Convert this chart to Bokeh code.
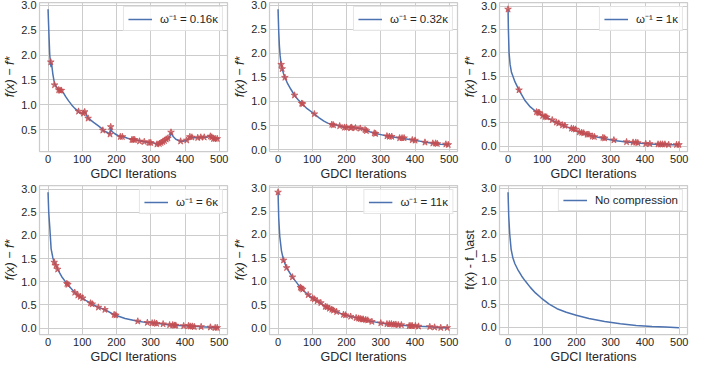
from bokeh.plotting import figure
from bokeh.layouts import gridplot
from bokeh.models import Range1d, FixedTicker, PrintfTickFormatter
from bokeh.embed import file_html
from bokeh.resources import INLINE

# ---------------- data ----------------
labels = ["ω⁻¹ = 0.16κ", "ω⁻¹ = 0.32κ", "ω⁻¹ = 1κ", "ω⁻¹ = 6κ", "ω⁻¹ = 11κ", "No compression"]
ylabels = ["f(x) − f*"] * 5 + ["f(x) - f_\\ast"]
x_ticks = [0, 100, 200, 300, 400, 500]
y_ticks = [0.0, 0.5, 1.0, 1.5, 2.0, 2.5, 3.0]

# panel 1: omega^-1 = 0.16 kappa
x1 = [0, 3, 5, 7, 8, 9, 10, 14, 19, 23, 27, 31, 34, 36, 40, 45, 51, 60, 69, 78, 87, 90, 95,
      100, 104, 108, 112, 116, 120, 133, 147, 158, 160, 165, 175, 181, 183, 186, 195, 205,
      212, 221, 232, 244, 253, 262, 272, 283, 295, 305, 312, 318, 325, 332, 340, 347, 352,
      356, 359, 362, 366, 373, 380, 387, 395, 400, 405, 410, 414, 420, 428, 437, 446, 456,
      465, 470, 474, 478, 483, 490, 499]
y1 = [2.92, 2.35, 2.0, 1.86, 1.80, 1.76, 1.85, 1.62, 1.42, 1.38, 1.34, 1.30, 1.27, 1.31,
      1.28, 1.24, 1.17, 1.08, 1.00, 0.93, 0.88, 0.85, 0.84, 0.82, 0.85, 0.86, 0.80, 0.74,
      0.72, 0.65, 0.58, 0.52, 0.49, 0.47, 0.44, 0.41, 0.56, 0.47, 0.42, 0.38, 0.36, 0.36,
      0.33, 0.31, 0.30, 0.29, 0.27, 0.26, 0.24, 0.24, 0.23, 0.20, 0.22, 0.24, 0.27, 0.31,
      0.34, 0.37, 0.45, 0.40, 0.36, 0.31, 0.29, 0.27, 0.27, 0.28, 0.29, 0.32, 0.36, 0.35,
      0.34, 0.34, 0.34, 0.35, 0.35, 0.38, 0.37, 0.33, 0.31, 0.32, 0.32]
sx1 = [8, 19, 31, 35, 39, 89, 103, 107, 117, 160, 181, 183, 211, 217, 245, 249, 253, 267,
       281, 295, 300, 318, 325, 330, 335, 340, 345, 350, 359, 387, 405, 414, 420, 437, 446,
       456, 474, 478, 483, 488, 494]
sy1 = [1.86, 1.40, 1.30, 1.29, 1.29, 0.87, 0.83, 0.86, 0.73, 0.49, 0.41, 0.56, 0.36, 0.36,
       0.30, 0.30, 0.30, 0.27, 0.26, 0.24, 0.24, 0.21, 0.22, 0.24, 0.26, 0.28, 0.31, 0.33,
       0.45, 0.27, 0.29, 0.36, 0.35, 0.34, 0.35, 0.35, 0.37, 0.35, 0.32, 0.32, 0.32]

# panel 2: omega^-1 = 0.32 kappa
x2 = [0, 2, 4, 6, 9, 12, 16, 20, 28, 37, 48, 58, 69, 85, 106, 120, 134, 145, 157, 170, 180,
      194, 212, 226, 240, 254, 268, 281, 300, 318, 337, 355, 375, 392, 410, 429, 452, 475, 499]
y2 = [2.92, 2.45, 2.15, 1.96, 1.77, 1.68, 1.58, 1.50, 1.37, 1.26, 1.13, 1.04, 0.96, 0.85,
      0.74, 0.66, 0.59, 0.55, 0.52, 0.51, 0.49, 0.46, 0.46, 0.45, 0.44, 0.41, 0.37, 0.34,
      0.31, 0.28, 0.26, 0.24, 0.22, 0.20, 0.18, 0.15, 0.13, 0.11, 0.10]
sx2 = [9, 12, 20, 48, 69, 72, 106, 157, 162, 180, 194, 200, 212, 215, 226, 240, 254, 258,
       281, 285, 318, 325, 332, 355, 362, 368, 392, 400, 429, 452, 460, 465, 490, 497]
sy2 = [1.77, 1.68, 1.50, 1.13, 0.96, 0.95, 0.74, 0.52, 0.51, 0.49, 0.46, 0.46, 0.45, 0.46,
       0.45, 0.44, 0.41, 0.39, 0.34, 0.33, 0.28, 0.27, 0.27, 0.24, 0.24, 0.24, 0.20, 0.19,
       0.15, 0.13, 0.13, 0.12, 0.11, 0.10]

# panel 3: omega^-1 = 1 kappa
x3 = [0, 1, 3, 6, 10, 14, 20, 32, 50, 65, 83, 106, 129, 143, 161, 185, 208, 231, 249, 277,
      309, 346, 369, 406, 438, 475, 499]
y3 = [2.93, 2.5, 2.0, 1.75, 1.58, 1.50, 1.38, 1.20, 0.97, 0.84, 0.73, 0.64, 0.55, 0.50,
      0.45, 0.37, 0.30, 0.25, 0.21, 0.17, 0.12, 0.09, 0.07, 0.05, 0.035, 0.03, 0.03]
sx3 = [0, 32, 83, 88, 92, 101, 108, 113, 129, 141, 148, 159, 166, 185, 191, 197, 208, 215,
       221, 231, 236, 246, 252, 277, 282, 309, 346, 365, 373, 379, 402, 414, 438, 445, 451,
       458, 469, 492, 499]
sy3 = [2.93, 1.20, 0.73, 0.72, 0.71, 0.65, 0.63, 0.62, 0.56, 0.51, 0.49, 0.45, 0.44, 0.38,
       0.37, 0.36, 0.30, 0.29, 0.28, 0.25, 0.25, 0.21, 0.20, 0.18, 0.17, 0.13, 0.09, 0.08,
       0.08, 0.07, 0.05, 0.05, 0.04, 0.04, 0.04, 0.04, 0.03, 0.03, 0.03]

# panel 4: omega^-1 = 6 kappa
x4 = [0, 2, 5, 9, 14, 18, 23, 28, 40, 55, 78, 92, 110, 124, 147, 166, 193, 225, 262, 290,
      304, 336, 355, 396, 410, 447, 474, 488, 499]
y4 = [2.93, 2.5, 2.18, 1.71, 1.52, 1.42, 1.35, 1.27, 1.11, 0.96, 0.77, 0.69, 0.60, 0.54,
      0.45, 0.40, 0.29, 0.21, 0.15, 0.12, 0.11, 0.09, 0.07, 0.05, 0.05, 0.03, 0.02, 0.01, 0.01]
sx4 = [18, 23, 28, 55, 58, 78, 87, 94, 101, 124, 129, 147, 166, 193, 198, 262, 290, 304, 311,
       317, 336, 355, 364, 369, 373, 396, 410, 415, 421, 427, 447, 474, 488, 494]
sy4 = [1.42, 1.35, 1.27, 0.96, 0.94, 0.77, 0.71, 0.68, 0.65, 0.54, 0.52, 0.45, 0.40, 0.29,
       0.28, 0.15, 0.12, 0.11, 0.11, 0.10, 0.09, 0.07, 0.07, 0.06, 0.06, 0.05, 0.05, 0.04,
       0.04, 0.03, 0.03, 0.02, 0.01, 0.01]

# panel 5: omega^-1 = 11 kappa
x5 = [0, 2, 5, 10, 16, 25, 42, 65, 88, 101, 120, 138, 152, 171, 194, 212, 231, 254, 277,
      300, 318, 350, 383, 410, 443, 475, 499]
y5 = [2.90, 2.35, 1.96, 1.65, 1.45, 1.29, 1.09, 0.87, 0.71, 0.64, 0.56, 0.46, 0.41, 0.35,
      0.28, 0.25, 0.22, 0.17, 0.14, 0.11, 0.09, 0.07, 0.05, 0.04, 0.03, 0.01, 0.01]
sx5 = [0, 16, 25, 42, 65, 68, 72, 88, 101, 106, 114, 125, 138, 143, 150, 157, 162, 171, 191,
       197, 212, 228, 235, 240, 245, 249, 256, 262, 274, 300, 318, 325, 331, 338, 344, 351,
       360, 383, 388, 392, 401, 410, 443, 457, 475, 494]
sy5 = [2.90, 1.45, 1.29, 1.09, 0.87, 0.85, 0.83, 0.71, 0.64, 0.62, 0.58, 0.54, 0.46, 0.45,
       0.42, 0.40, 0.38, 0.35, 0.29, 0.28, 0.25, 0.22, 0.21, 0.20, 0.19, 0.19, 0.18, 0.17,
       0.14, 0.11, 0.09, 0.09, 0.09, 0.08, 0.08, 0.07, 0.07, 0.05, 0.05, 0.05, 0.05, 0.04,
       0.03, 0.02, 0.01, 0.01]

# panel 6: no compression
x6 = [0, 2, 5, 9, 14, 20, 28, 40, 51, 65, 80, 97, 120, 143, 170, 199, 236, 282, 328, 374,
      420, 460, 499]
y6 = [2.91, 2.4, 2.0, 1.68, 1.50, 1.37, 1.25, 1.10, 0.99, 0.86, 0.74, 0.63, 0.50, 0.40,
      0.325, 0.26, 0.19, 0.125, 0.075, 0.04, 0.018, 0.005, -0.01]

curves = [(x1, y1), (x2, y2), (x3, y3), (x4, y4), (x5, y5), (x6, y6)]
stars = [(sx1, sy1), (sx2, sy2), (sx3, sy3), (sx4, sy4), (sx5, sy5), None]

BLUE = "#4c72b0"
RED = "#c44e52"
GRID = "#cccccc"
TXT = "#262626"
FONT = "Liberation Sans"


def make(i):
    xs, ys = curves[i]
    allx = list(xs)
    ally = list(ys)
    if stars[i] is not None:
        ally += list(stars[i][1])
    ymin, ymax = min(ally), max(ally)
    pad = 0.05 * (ymax - ymin)
    xmin, xmax = min(allx), max(allx)
    xpad = 0.05 * (xmax - xmin)
    p = figure(width=230, height=183, output_backend="svg", toolbar_location=None,
               x_range=Range1d(xmin - xpad, xmax + xpad),
               y_range=Range1d(ymin - pad, ymax + pad),
               min_border_left=0, min_border_right=3, min_border_top=2, min_border_bottom=0)
    p.background_fill_color = "white"
    p.border_fill_color = "white"
    p.outline_line_color = GRID
    p.outline_line_width = 1.25
    p.xgrid.grid_line_color = GRID
    p.ygrid.grid_line_color = GRID
    p.xgrid.grid_line_width = 1
    p.ygrid.grid_line_width = 1
    p.xaxis.ticker = FixedTicker(ticks=x_ticks)
    p.yaxis.ticker = FixedTicker(ticks=y_ticks)
    p.yaxis.formatter = PrintfTickFormatter(format="%.1f")
    for ax in (p.xaxis[0], p.yaxis[0]):
        ax.axis_line_color = None
        ax.major_tick_line_color = None
        ax.minor_tick_line_color = None
        ax.major_tick_out = 0
        ax.major_tick_in = 0
        ax.minor_tick_out = 0
        ax.major_label_text_font = FONT
        ax.major_label_text_font_size = "11px"
        ax.major_label_text_color = TXT
        ax.major_label_standoff = 3
        ax.axis_label_text_font = FONT
        ax.axis_label_text_font_size = "12.5px"
        ax.axis_label_text_font_style = "normal"
        ax.axis_label_text_color = TXT
        ax.axis_label_standoff = 1
    p.xaxis.axis_label = "GDCI Iterations"
    p.yaxis.axis_label = ylabels[i]
    if i < 5:
        p.yaxis.axis_label_text_font_style = "italic"

    p.line(xs, ys, line_color=BLUE, line_width=1.5, legend_label=labels[i])
    if stars[i] is not None:
        p.scatter(stars[i][0], stars[i][1], marker="star", size=7,
                  fill_color=RED, line_color=RED, fill_alpha=0.75, line_alpha=0.75)

    lg = p.legend[0]
    lg.location = "top_right"
    lg.label_text_font = FONT
    lg.label_text_font_size = "11.5px"
    lg.label_text_color = TXT
    lg.glyph_width = 24
    lg.glyph_height = 12
    lg.label_height = 12
    lg.label_standoff = 8
    lg.padding = 4
    lg.spacing = 0
    lg.margin = 4
    lg.border_line_color = GRID
    lg.border_line_width = 1
    lg.background_fill_color = "white"
    lg.background_fill_alpha = 0.85
    return p


figs = [make(i) for i in range(6)]
grid = gridplot([figs[0:3], figs[3:6]], toolbar_location=None)
open("out.html", "w").write(file_html(grid, INLINE))
